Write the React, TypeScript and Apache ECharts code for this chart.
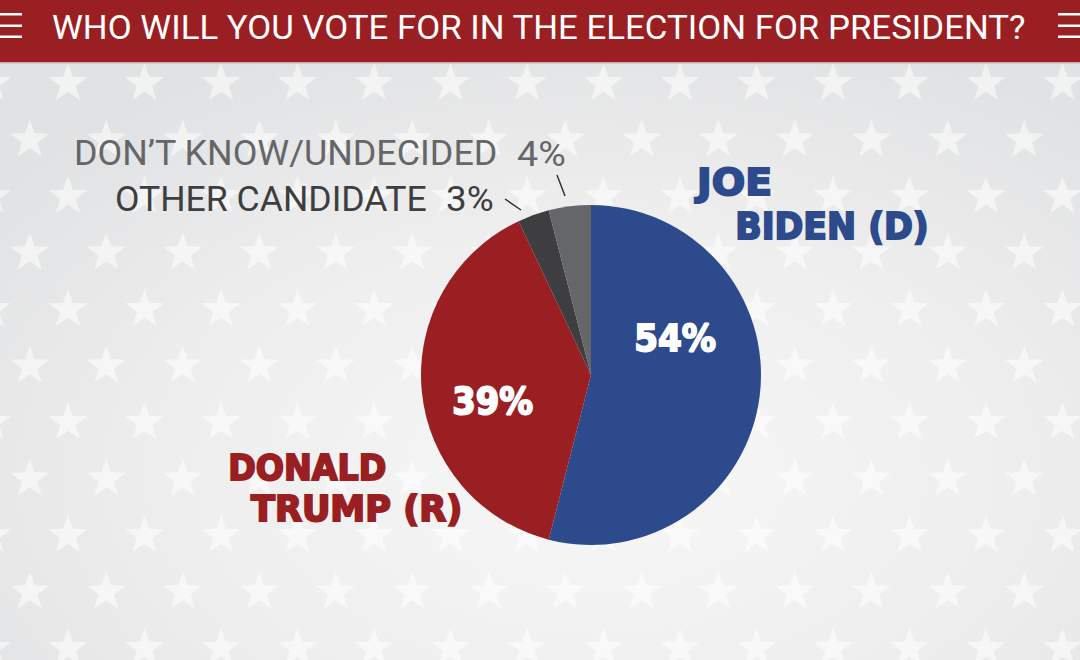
import React, { useEffect, useRef } from "react";
import * as echarts from "echarts";

// ---------- data ----------
const TITLE = "WHO WILL YOU VOTE FOR IN THE ELECTION FOR PRESIDENT?";
const candidates = ["JOE BIDEN (D)", "DONALD TRUMP (R)", "OTHER CANDIDATE", "DON’T KNOW/UNDECIDED"];
const nameLines = [["JOE", "BIDEN (D)"], ["DONALD", "TRUMP (R)"], ["OTHER CANDIDATE"], ["DON’T KNOW/UNDECIDED"]];
const shares = [54, 39, 3, 4];
const sliceColors = ["#2c4a8c", "#9a1f22", "#3e3e40", "#656668"];

// ---------- layout (positions only) ----------
// name labels: [left, capCenterY, inkWidth, fontSize] per line
const nameLayout = [
  [[693, 181.5, 78, 38], [737, 226, 190, 37]],
  [[230, 467.5, 156, 35.5], [250, 508.5, 211, 35.5]],
  [[117, 199.5, 309, 35]],
  [[76, 153.5, 420, 35]],
];
// percent labels: [left, capCenterY, inkWidth, fontSize, heavy]
const pctLayout = [
  [635, 337.5, 81, 38, true],
  [453, 401, 80, 38, true],
  [447, 199.5, 46, 35, false],
  [517, 153.5, 48, 35, false],
];
const leaderLines = [null, null, [505, 199, 521, 210], [557, 175, 565, 196]];

const HEAVY_FAMILY = "DejaVu Sans";
const LIGHT_FAMILY = "Roboto";
const HEAVY_STROKE = 2;

let measureCtx: CanvasRenderingContext2D | null = null;
function inkMetrics(text: string, font: string) {
  if (!measureCtx) measureCtx = document.createElement("canvas").getContext("2d");
  const ctx = measureCtx!;
  ctx.font = font;
  const m = ctx.measureText(text);
  const left = m.actualBoundingBoxLeft || 0;
  const right = m.actualBoundingBoxRight || m.width;
  return { left, width: right + left };
}

function fittedText(text: string, left: number, cy: number, width: number, size: number, weight: string | number, family: string, color: string, stroke = 0) {
  const font = `${weight} ${size}px ${family}`;
  const im = inkMetrics(text, font);
  const sx = (width - stroke) / im.width;
  const style: any = {
    text,
    fill: color,
    fontSize: size,
    fontWeight: weight,
    fontFamily: family,
    align: "left",
    verticalAlign: "middle",
    textAlign: "left",
    textVerticalAlign: "middle",
  };
  if (stroke > 0) {
    style.stroke = color;
    style.lineWidth = stroke;
    style.lineJoin = "round";
  }
  return {
    type: "text",
    x: left + stroke / 2 + im.left * sx,
    y: cy,
    scaleX: sx,
    z: 20,
    silent: true,
    style,
  };
}

function starPoints(cx: number, cy: number, R: number) {
  const r = R * 0.4;
  const pts: number[][] = [];
  for (let i = 0; i < 10; i++) {
    const a = -Math.PI / 2 + (i * Math.PI) / 5;
    const rad = i % 2 === 0 ? R : r;
    pts.push([cx + rad * Math.cos(a), cy + rad * Math.sin(a)]);
  }
  return pts;
}

export default function App() {
  const ref = useRef<HTMLDivElement>(null);
  useEffect(() => {
    if (!ref.current) return;
    const chart = echarts.init(ref.current, undefined, { renderer: "svg" });

    const graphics: any[] = [];
    // background
    graphics.push({
      type: "rect",
      z: 0,
      silent: true,
      shape: { x: 0, y: 0, width: 1080, height: 660 },
      style: {
        fill: new echarts.graphic.RadialGradient(0.55, 0.72, 0.7, [
          { offset: 0, color: "#f7f7f7" },
          { offset: 0.55, color: "#eeeeef" },
          { offset: 1, color: "#e1e2e3" },
        ]),
      },
    });
    // stars
    for (let k = 0; k < 12; k++) {
      const cy = 27 + 56.5 * k;
      const offset = k % 2 === 1 ? 68 : 29.75;
      for (let c = -1; c < 15; c++) {
        const cx = offset + 76.5 * c;
        if (cx < -25 || cx > 1105) continue;
        graphics.push({
          type: "polygon",
          z: 1,
          silent: true,
          shape: { points: starPoints(cx, cy, 20.5) },
          style: { fill: "rgba(255,255,255,0.55)" },
        });
      }
    }
    // header
    graphics.push({ type: "rect", z: 30, silent: true, shape: { x: 0, y: 0, width: 1080, height: 62 }, style: { fill: "#9a1f22" } });
    graphics.push({ type: "rect", z: 30, silent: true, shape: { x: 0, y: 62, width: 1080, height: 1.5 }, style: { fill: "#cfa7a8" } });
    for (const hx of [0, 1058]) {
      for (const hy of [13, 24.5, 35.5]) {
        graphics.push({ type: "rect", z: 31, silent: true, shape: { x: hx, y: hy, width: 22, height: 2.5 }, style: { fill: "#ffffff" } });
      }
    }
    const title = fittedText(TITLE, 53, 27, 972, 34, 400, "Roboto", "#ffffff");
    title.z = 32;
    graphics.push(title);

    // name labels
    nameLines.forEach((lines, i) => {
      lines.forEach((line, j) => {
        const [l, cy, w, fs] = nameLayout[i][j];
        const heavy = i < 2;
        graphics.push(
          fittedText(line, l, cy, w, fs, heavy ? "bold" : 400, heavy ? HEAVY_FAMILY : LIGHT_FAMILY, sliceColors[i], heavy ? HEAVY_STROKE : 0)
        );
      });
    });
    // percent labels
    shares.forEach((v, i) => {
      const [l, cy, w, fs, heavy] = pctLayout[i] as [number, number, number, number, boolean];
      graphics.push(
        fittedText(`${v}%`, l, cy, w, fs, heavy ? "bold" : 400, heavy ? HEAVY_FAMILY : LIGHT_FAMILY, heavy ? "#ffffff" : sliceColors[i], heavy ? HEAVY_STROKE : 0)
      );
    });
    // leader lines
    leaderLines.forEach((ln) => {
      if (!ln) return;
      graphics.push({
        type: "line",
        z: 20,
        silent: true,
        shape: { x1: ln[0], y1: ln[1], x2: ln[2], y2: ln[3] },
        style: { stroke: "#2a2a2c", lineWidth: 1.4 },
      });
    });

    chart.setOption({
      animation: false,
      graphic: { elements: graphics },
      series: [
        {
          type: "pie",
          center: [591, 375],
          radius: [0, 170],
          startAngle: 90,
          clockwise: true,
          silent: true,
          z: 10,
          label: { show: false },
          labelLine: { show: false },
          emphasis: { disabled: true },
          itemStyle: { borderWidth: 0 },
          data: shares.map((v, i) => ({
            value: v,
            name: candidates[i],
            itemStyle: { color: sliceColors[i] },
          })),
        },
      ],
    });
    return () => chart.dispose();
  }, []);
  return <div ref={ref} style={{ position: "absolute", left: 0, top: 0, width: 1080, height: 660 }} />;
}
